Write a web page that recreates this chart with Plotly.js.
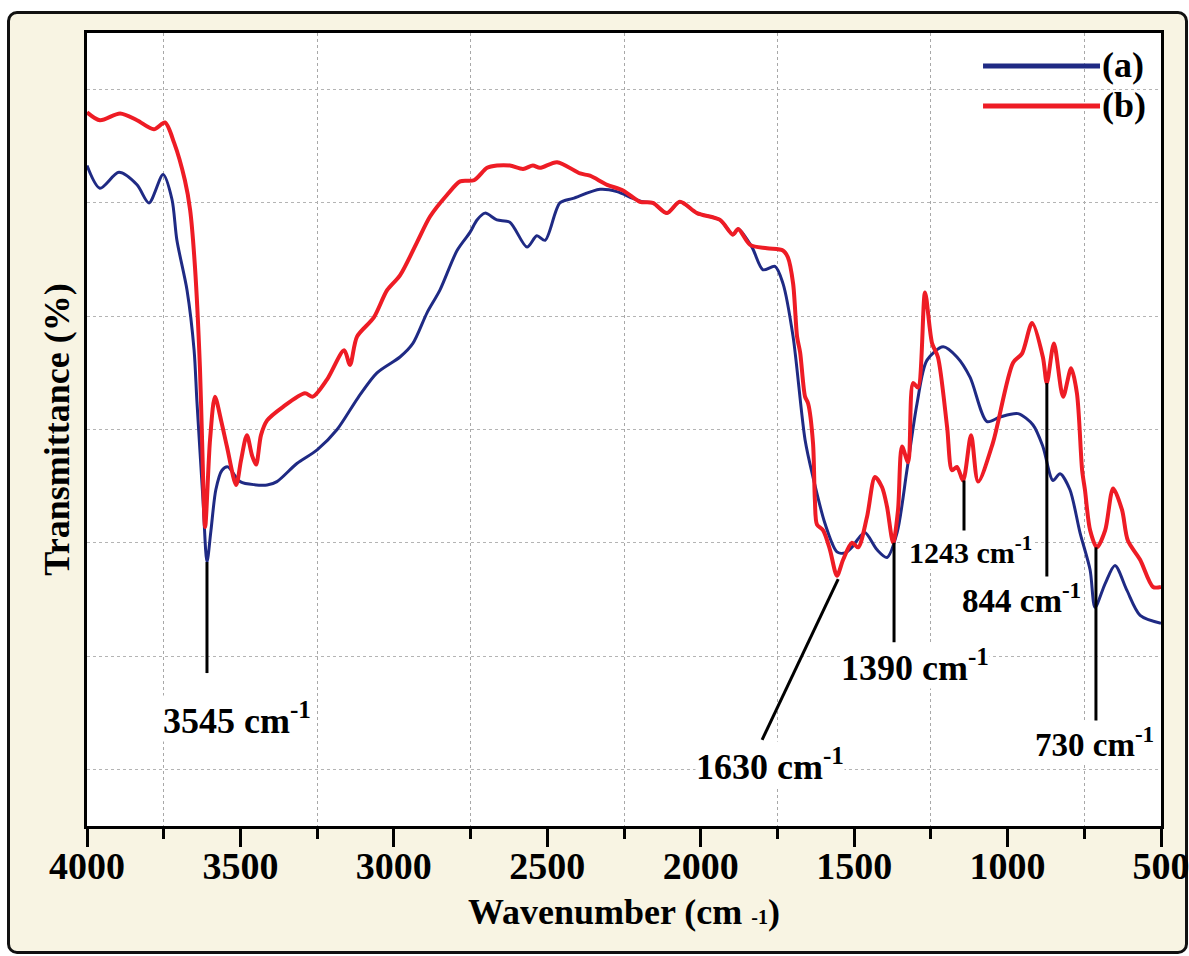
<!DOCTYPE html>
<html>
<head>
<meta charset="utf-8">
<script src="https://cdn.plot.ly/plotly-3.0.1.min.js"></script>
<style>
  html, body { margin: 0; padding: 0; background: #ffffff; }
  #panel {
    position: absolute; left: 7px; top: 11px;
    width: 1175px; height: 937px;
    border: 3px solid #111111; border-radius: 10px;
    background: #f8f4e3;
  }
  #chart { position: absolute; left: 0; top: 0; width: 1189px; height: 956px; }
</style>
</head>
<body>
<div id="panel"></div>
<div id="chart"></div>
<script>
// FTIR spectra: wavenumber (cm-1) and transmittance (%)
const wavenumberA = [4000,3958,3896,3837,3798,3752,3723,3707,3674,3651,3642,3622,3609,3596,3580,3560,3541,3501,3413,3381,3316,3250,3185,3117,3055,2980,2938,2892,2850,2794,2752,2729,2703,2664,2622,2566,2534,2507,2459,2416,2328,2273,2221,2188,2156,2110,2068,2012,1937,1895,1878,1833,1797,1758,1732,1699,1660,1634,1595,1556,1530,1507,1491,1465,1426,1393,1360,1328,1295,1263,1210,1165,1122,1067,1025,966,917,885,852,829,797,764,731,715,682,650,611,568,500];
const transmittanceA = [58.3,56.3,57.7,56.6,55.0,57.5,55.3,51.7,47.3,42.0,37.6,28.8,23.3,26.1,29.7,31.4,31.7,30.4,30.1,30.4,32.0,33.2,35.0,37.8,40.0,41.4,42.6,45.3,47.3,50.8,52.4,53.5,54.1,53.5,53.3,51.1,52.1,51.7,55.0,55.4,56.2,56.0,55.4,55.1,55.0,54.1,55.1,54.1,53.5,52.2,52.7,51.1,49.1,49.4,47.9,43.2,34.1,30.8,26.7,24.2,24.1,24.6,25.2,25.9,24.4,23.7,25.9,31.4,37.3,41.1,42.3,41.4,39.6,35.7,36.1,36.4,35.4,33.5,30.5,31.1,29.7,25.9,22.6,19.3,21.4,23.0,20.8,18.6,17.9];

const wavenumberB = [4000,3958,3892,3837,3782,3746,3716,3681,3664,3648,3632,3625,3615,3599,3583,3563,3544,3514,3498,3479,3462,3449,3433,3413,3361,3290,3264,3218,3162,3143,3120,3065,3022,2980,2925,2882,2827,2784,2739,2696,2664,2622,2579,2547,2524,2468,2393,2361,2305,2253,2198,2156,2110,2068,2012,1937,1895,1878,1839,1784,1732,1716,1699,1686,1676,1660,1650,1634,1628,1621,1601,1579,1556,1536,1507,1487,1458,1432,1409,1393,1373,1357,1344,1324,1308,1292,1269,1246,1227,1197,1181,1165,1145,1119,1096,1048,982,953,920,885,872,849,819,793,774,757,748,731,709,682,656,627,608,568,526,500];
const transmittanceB = [63.0,62.3,62.9,62.3,61.5,62.1,60.3,57.0,54.4,49.3,40.5,34.1,26.4,34.1,37.9,35.8,33.5,30.1,32.3,34.5,32.7,31.9,34.5,35.8,37.0,38.2,37.9,39.4,42.0,40.7,43.2,44.9,47.3,48.6,51.5,53.8,55.7,56.9,57.0,58.1,58.3,58.3,58.0,58.3,58.1,58.6,57.6,57.4,56.6,56.1,55.1,55.0,54.1,55.1,54.1,53.5,52.2,52.7,51.3,51.0,50.8,50.2,47.9,43.2,41.8,37.9,37.3,33.8,28.8,26.6,26.1,24.4,22.1,23.5,25.0,24.6,27.3,30.8,29.9,28.2,25.0,27.9,33.5,32.1,39.1,38.7,47.1,42.6,41.4,35.2,31.4,31.7,30.5,34.5,30.4,33.8,40.9,41.7,44.4,41.4,39.1,42.6,37.9,40.4,38.2,31.4,29.7,26.1,24.6,26.1,29.8,27.9,25.2,23.5,21.1,21.1];

const seriesNames = ['(a)', '(b)'];
const bandLabels = ['3545', '1630', '1390', '1243', '844', '730'];
const xTickValues = [4000, 3500, 3000, 2500, 2000, 1500, 1000, 500];

const BLUE = '#1f2a84';
const RED = '#ee1c25';
const FONT = 'Liberation Serif, Times New Roman, serif';

const traces = [
  { x: wavenumberA, y: transmittanceA, name: seriesNames[0], type: 'scatter', mode: 'lines',
    line: { color: BLUE, width: 3, shape: 'spline', smoothing: 0.8 }, showlegend: false },
  { x: wavenumberB, y: transmittanceB, name: seriesNames[1], type: 'scatter', mode: 'lines',
    line: { color: RED, width: 4, shape: 'spline', smoothing: 0.8 }, showlegend: false }
];

// band call-outs: leader line (x0,y0)->(x1,y1) and text placement
const callouts = [
  { label: bandLabels[0], x0: 3609, y0: 23.3, x1: 3609, y1: 13.5, tx: 3511, ty: 9.5, size: 36 },
  { label: bandLabels[1], x0: 1552, y0: 21.8, x1: 1800, y1: 7.6,  tx: 1774, ty: 5.4, size: 36 },
  { label: bandLabels[2], x0: 1370, y0: 25.0, x1: 1370, y1: 16.2, tx: 1302, ty: 14.2, size: 36 },
  { label: bandLabels[3], x0: 1142, y0: 30.5, x1: 1142, y1: 25.7, tx: 1122, ty: 24.4, size: 30 },
  { label: bandLabels[4], x0: 872,  y0: 39.1, x1: 872,  y1: 20.8, tx: 953,  ty: 20.1, size: 33 },
  { label: bandLabels[5], x0: 712,  y0: 24.6, x1: 712,  y1: 8.6,  tx: 718,  ty: 7.4,  size: 33 }
];

const shapes = callouts.map(c => ({
  type: 'line', xref: 'x', yref: 'y', x0: c.x0, y0: c.y0, x1: c.x1, y1: c.y1,
  line: { color: '#000000', width: 3 }
}));

const annotations = callouts.map(c => ({
  xref: 'x', yref: 'y', x: c.tx, y: c.ty, showarrow: false,
  text: c.label + ' cm<sup>-1</sup>', bgcolor: '#ffffff', borderpad: 0,
  font: { family: FONT, size: c.size, color: '#000000', weight: 'bold' }
}));

// legend keys drawn as long line samples
const legendRows = [
  { name: seriesNames[0], color: BLUE, y: 0.9584, ty: 0.9596 },
  { name: seriesNames[1], color: RED, y: 0.9079, ty: 0.9091 }
];
legendRows.forEach(r => {
  shapes.push({ type: 'line', xref: 'paper', yref: 'paper', x0: 0.8343, x1: 0.9432, y0: r.y, y1: r.y,
    line: { color: r.color, width: 5 } });
  annotations.push({ xref: 'paper', yref: 'paper', x: 0.9432, y: r.ty, xanchor: 'left', yanchor: 'middle',
    showarrow: false, text: r.name, font: { family: FONT, size: 36, color: '#000000', weight: 'bold' } });
});

const layout = {
  width: 1189, height: 956,
  margin: { l: 87, r: 28, t: 33, b: 130 },
  paper_bgcolor: 'rgba(0,0,0,0)',
  plot_bgcolor: '#ffffff',
  showlegend: false,
  xaxis: {
    range: [4000, 500], autorange: false,
    tickmode: 'array', tickvals: xTickValues,
    ticks: 'outside', ticklen: 18, tickwidth: 3, tickcolor: '#000000',
    ticklabeloverflow: 'allow', ticklabelstandoff: -14,
    showgrid: false, zeroline: false,
    showline: true, linewidth: 3, linecolor: '#000000', mirror: true,
    tickfont: { family: FONT, size: 38, color: '#000000', weight: 'bold' },
    minor: { tick0: 250, dtick: 500, ticks: 'outside', ticklen: 10, tickwidth: 3, tickcolor: '#000000',
             showgrid: true, griddash: 'dot', gridcolor: '#a8a8a8', gridwidth: 1 },
    title: { text: 'Wavenumber (cm <span style="font-size:20px">-1</span>)', standoff: 14,
             font: { family: FONT, size: 36, color: '#000000', weight: 'bold' } }
  },
  yaxis: {
    range: [0, 70], autorange: false,
    tick0: 5, dtick: 10, ticks: '', showticklabels: false,
    showgrid: true, griddash: 'dot', gridcolor: '#b4b4b4', gridwidth: 1,
    zeroline: false,
    showline: true, linewidth: 3, linecolor: '#000000', mirror: true,
    title: { text: 'Transmittance (%)', standoff: 4,
             font: { family: FONT, size: 36, color: '#000000', weight: 'bold' } }
  },
  shapes: shapes,
  annotations: annotations
};

Plotly.newPlot('chart', traces, layout, { displayModeBar: false, staticPlot: true });
</script>
</body>
</html>
